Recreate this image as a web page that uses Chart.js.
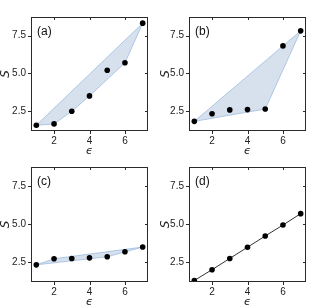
<!DOCTYPE html>
<html><head><meta charset="utf-8">
<script src="https://cdn.jsdelivr.net/npm/chart.js@4/dist/chart.umd.min.js"></script>
<style>
html,body{margin:0;padding:0;background:#fff;}
body{width:321px;height:307px;position:relative;overflow:hidden;}
canvas{position:absolute;}
</style></head>
<body>
<canvas id="ca" style="left:0;top:0"></canvas>
<canvas id="cb" style="left:160px;top:0"></canvas>
<canvas id="cc" style="left:0;top:150px"></canvas>
<canvas id="cd" style="left:160px;top:150px"></canvas>
<script>
// ---- data ----
const epsValues = [1, 2, 3, 4, 5, 6, 7];
const sA = [1.55, 1.64, 2.48, 3.50, 5.20, 5.70, 8.33];
const sB = [1.81, 2.32, 2.57, 2.59, 2.63, 6.82, 7.82];
const sC = [2.30, 2.70, 2.72, 2.76, 2.83, 3.16, 3.47];
const sD = [1.27, 1.98, 2.72, 3.46, 4.20, 4.92, 5.67];
const xTickValues = [2, 4, 6];
const yTickValues = [2.5, 5.0, 7.5];
const panelLabels = ['(a)', '(b)', '(c)', '(d)'];

// convex hull (monotone chain) of the data points
function hull(xs, ys){
  const pts = xs.map((x,i)=>({x, y: ys[i]})).sort((p,q)=>p.x-q.x || p.y-q.y);
  const cross=(o,a,b)=>(a.x-o.x)*(b.y-o.y)-(a.y-o.y)*(b.x-o.x);
  const lower=[], upper=[];
  for(const p of pts){ while(lower.length>=2 && cross(lower[lower.length-2],lower[lower.length-1],p)<=0) lower.pop(); lower.push(p); }
  for(let i=pts.length-1;i>=0;i--){ const p=pts[i]; while(upper.length>=2 && cross(upper[upper.length-2],upper[upper.length-1],p)<=0) upper.pop(); upper.push(p); }
  upper.pop(); lower.pop();
  const h = lower.concat(upper);
  h.push(h[0]);
  return h;
}
const pts = ys => epsValues.map((x,i)=>({x, y: ys[i]}));

const framePlugin = {
  id: 'frame',
  afterDatasetsDraw(chart, args, opts){
    const {ctx, chartArea:a} = chart;
    const x = chart.scales.x, y = chart.scales.y;
    ctx.save();
    ctx.strokeStyle = '#2a2a2a';
    ctx.lineWidth = 1;
    ctx.strokeRect(a.left+0.5, a.top+0.5, a.right-a.left-1, a.bottom-a.top-1);
    const L = 3;
    ctx.beginPath();
    x.ticks.forEach(t=>{
      const px = Math.round(x.getPixelForValue(t.value))+0.5;
      ctx.moveTo(px, a.bottom); ctx.lineTo(px, a.bottom+L);
      ctx.moveTo(px, a.top); ctx.lineTo(px, a.top+L);
    });
    y.ticks.forEach(t=>{
      const py = Math.round(y.getPixelForValue(t.value))+0.5;
      ctx.moveTo(a.left, py); ctx.lineTo(a.left-L, py);
      ctx.moveTo(a.right, py); ctx.lineTo(a.right-L, py);
    });
    ctx.stroke();
    ctx.fillStyle = '#111';
    ctx.font = '12px "Liberation Sans", Arial, sans-serif';
    ctx.textBaseline = 'middle';
    ctx.textAlign = 'left';
    ctx.fillText(opts.label, a.left+6, a.top+14.5);
    ctx.restore();
  }
};

function makePanel(id, w, h, yW, xH, padR, ys, label, mode){
  const cv = document.getElementById(id);
  cv.width = w; cv.height = h;
  cv.style.width = w+'px'; cv.style.height = h+'px';
  const datasets = [{
    type: 'scatter',
    data: pts(ys),
    pointRadius: 2.8,
    pointBackgroundColor: '#000',
    pointBorderWidth: 0,
    showLine: mode === 'line',
    borderColor: '#333',
    borderWidth: 1,
    order: 0
  }];
  if (mode === 'hull') {
    datasets.push({
      type: 'scatter',
      data: hull(epsValues, ys),
      showLine: true,
      pointRadius: 0,
      borderColor: 'rgba(150,183,222,0.9)',
      borderWidth: 0.8,
      backgroundColor: 'rgba(176,196,222,0.5)',
      fill: 'shape',
      tension: 0,
      order: 1
    });
  }
  const tickFont = {family: '"Liberation Sans", Arial, sans-serif', size: 10};
  new Chart(cv, {
    type: 'scatter',
    data: {datasets},
    options: {
      responsive: false,
      animation: false,
      devicePixelRatio: 1,
      layout: {padding: {top: 17, right: padR, left: 0, bottom: 0}, autoPadding: false},
      plugins: {legend: {display: false}, tooltip: {enabled: false}, frame: {label}},
      scales: {
        x: {
          type: 'linear', min: 0.7, max: 7.3,
          grid: {display: false, drawTicks: false},
          border: {display: false},
          afterBuildTicks: s => { s.ticks = xTickValues.map(v=>({value: v})); },
          afterFit: s => { s.height = xH; },
          ticks: {font: tickFont, color: '#222', padding: 4, callback: v => String(v)},
          title: {display: true, text: 'ϵ', color: '#222', padding: 0,
                  font: {family: '"DejaVu Sans", sans-serif', size: 11, style: 'italic', lineHeight: 0.8}}
        },
        y: {
          type: 'linear', min: 1.17, max: 8.74,
          grid: {display: false, drawTicks: false},
          border: {display: false},
          afterBuildTicks: s => { s.ticks = yTickValues.map(v=>({value: v})); },
          afterFit: s => { s.width = yW; },
          ticks: {font: tickFont, color: '#222', padding: 5, callback: v => Number(v).toFixed(1)},
          title: {display: true, text: 'S', color: '#222', padding: 0,
                  font: {family: '"DejaVu Sans", sans-serif', size: 12, style: 'italic', lineHeight: 0.9}}
        }
      }
    },
    plugins: [framePlugin]
  });
}

makePanel('ca', 160, 156, 31, 25, 12, sA, panelLabels[0], 'hull');
makePanel('cb', 161, 156, 29, 25, 15, sB, panelLabels[1], 'hull');
makePanel('cc', 160, 157, 31, 25, 12, sC, panelLabels[2], 'hull');
makePanel('cd', 161, 157, 29, 25, 15, sD, panelLabels[3], 'line');
</script>
</body></html>
